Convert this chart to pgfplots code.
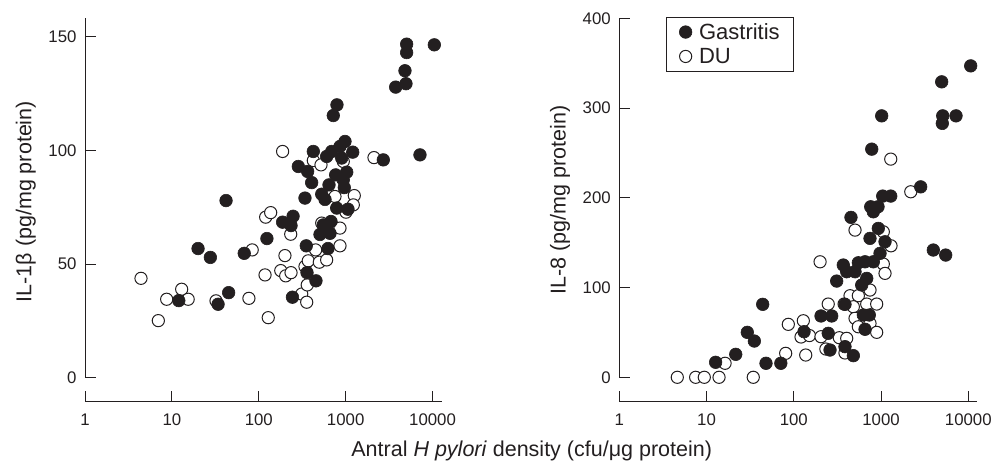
\documentclass[border=0pt]{standalone}
\usepackage{fontspec}
\setmainfont{Liberation Sans}
\usepackage{pgfplots}
\pgfplotsset{compat=1.18}
\definecolor{ink}{RGB}{35,31,32}
\begin{document}
\begin{tikzpicture}
\useasboundingbox (0,0) rectangle (995pt,464pt);
% ---------------- left: IL-1beta
\begin{axis}[at={(85pt,62.3pt)}, anchor=south west,
  scale only axis, width=357.3pt, height=383.7pt,
  xmode=log, log basis x=10, clip=false,
  axis x line*=bottom, axis y line*=left,
  axis line style={draw=none},
  xtick pos=bottom, ytick pos=left, tick align=inside, major tick length=11pt,
  major tick style={ink, line width=0.9pt},
  xtick={1,10,100,1000,10000}, xticklabels={1,10,100,1000,10000},
  xminorticks=false,
  tick label style={font=\fontsize{16.8}{19}\selectfont, text=ink},
  xticklabel style={yshift=-9pt},
  yticklabel style={xshift=-5pt},
  xmin=1, xmax=12940, ymin=-10.56, ymax=158.2,
  ytick={0,50,100,150}, yticklabels={0,50,100,150}]
\draw[ink, line width=0.9pt] (axis cs:1,0) -- (axis cs:1,158.2);
\draw[ink, line width=0.9pt] (axis cs:1,-10.56) -- (axis cs:12940,-10.56);
\addplot[only marks, mark=*, mark size=6.1pt, mark options={fill=white, draw=ink, line width=1pt}] table {
x y
4.41 43.7
6.98 25.1
8.71 34.5
12.96 38.9
15.4 34.5
32.2 33.8
77 34.9
128.5 26.4
84 56.2
120 70.6
137 72.6
188 99.5
118 45.2
179 47.1
204 44.8
235 46.2
200 53.7
233 63.1
312 36.8
356 33.2
361 40.8
340 48.9
371 51.4
451 56.2
497 50.8
604 51.8
860 58.0
860 65.8
530 68.0
753 79.7
1256 80.1
1224 76.0
1008 72.8
2117 96.8
424 95.5
520 93.6
938 95.1
};
\addplot[only marks, mark=*, mark size=6.3pt, mark options={fill=ink, draw=ink, line width=0.6pt}] table {
x y
10470 146.4
5030 146.7
5030 143.0
4810 135.0
4940 129.3
3760 127.8
7160 98.0
2710 95.8
794 120.0
720 115.3
982 103.9
860 101.7
690 99.5
604 97.3
1205 99.2
424 99.5
899 96.6
285 92.9
365 90.7
406 85.8
767 89.2
1028 90.4
938 87.0
643 84.8
964 83.6
340 79.0
530 80.7
578 78.4
788 74.6
1063 74.1
42 77.9
188 68.4
248 71.0
235 66.9
124 61.2
20 56.8
27.7 52.9
68 54.7
352 58.0
626 56.8
506 63.0
660 63.5
678 68.7
552 67.2
359 46.2
455 42.6
45 37.4
34 32.3
12 33.9
244 35.4
};
\end{axis}
% ---------------- right: IL-8
\begin{axis}[at={(619.3pt,62.3pt)}, anchor=south west,
  scale only axis, width=358pt, height=383.4pt,
  xmode=log, log basis x=10, clip=false,
  axis x line*=bottom, axis y line*=left,
  axis line style={draw=none},
  xtick pos=bottom, ytick pos=left, tick align=inside, major tick length=11pt,
  major tick style={ink, line width=0.9pt},
  xtick={1,10,100,1000,10000}, xticklabels={1,10,100,1000,10000},
  xminorticks=false,
  tick label style={font=\fontsize{16.8}{19}\selectfont, text=ink},
  xticklabel style={yshift=-9pt},
  yticklabel style={xshift=-5pt},
  xmin=1, xmax=12680, ymin=-27.2, ymax=400,
  ytick={0,100,200,300,400}, yticklabels={0,100,200,300,400},
  reverse legend,
  legend style={at={(0.13,1.003)}, anchor=north west, draw=ink, line width=0.8pt,
    inner xsep=12pt, inner ysep=4.5pt, font=\fontsize{22}{24}\selectfont,
    row sep=4.4pt, column sep=4pt,
    nodes={inner sep=2pt, text height=15pt, text depth=1pt, text=ink}, cells={anchor=west}},
  legend image code/.code={\path (0pt,0pt) (14pt,0pt); \draw[#1] plot coordinates {(7pt,0pt)};}]
\draw[ink, line width=0.9pt] (axis cs:1,0) -- (axis cs:1,400);
\draw[ink, line width=0.9pt] (axis cs:1,-27.2) -- (axis cs:12680,-27.2);
\addplot[only marks, mark=*, mark size=6.1pt, mark options={fill=white, draw=ink, line width=1pt}] table {
x y
4.62 0
7.5 0
9.42 0
13.9 0
34.3 0
16.3 15.6
80.7 26.7
137 24.8
86.5 59.0
128.5 63.0
200 128.7
503 164.0
1291 243.1
2190 206.7
1061 162.1
1300 146.5
1061 126.2
1110 115.8
441 90.9
549 90.9
747 97.2
248 81.6
377 81.6
685 81.6
891 81.6
481 78.6
503 65.7
549 56.3
747 60.1
891 50.1
121 44.9
151 46.5
205 45.2
233 31.5
332 44.1
404 43.4
386 27.1
};
\addlegendentry{DU}
\addplot[only marks, mark=*, mark size=6.3pt, mark options={fill=ink, draw=ink, line width=0.6pt}] table {
x y
10650 347.0
4955 329.2
5090 291.3
5035 282.9
7230 291.3
1017 291.3
782 254.2
2845 212.2
1045 201.9
1291 201.9
761 190.0
923 190.0
815 184.4
452 178.2
3970 141.8
5510 136.2
930 165.9
747 154.8
1110 151.0
973 138.1
815 128.7
549 127.6
655 128.7
369 125.1
404 117.6
503 117.6
685 110.2
600 102.8
310 107.2
44 81.3
386 81.3
205 68.3
272 68.3
626 69.4
733 69.4
655 53.5
131 50.8
248 49.0
29.3 50.1
35.3 40.4
386 34.1
260 30.4
481 24.1
21.6 25.6
12.7 16.7
48 15.6
71 15.6
};
\addlegendentry{Gastritis}
\end{axis}
\node[rotate=90, anchor=base, font=\fontsize{21.5}{24}\selectfont, text=ink] at (31.5pt,262.3pt) {IL-1β (pg/mg protein)};
\node[rotate=90, anchor=base, font=\fontsize{21.5}{24}\selectfont, text=ink] at (565.5pt,264pt) {IL-8 (pg/mg protein)};
\node[anchor=base, font=\fontsize{21.5}{24}\selectfont, text=ink] at (531.7pt,7.5pt) {Antral \textit{H pylori} density (cfu/μg protein)};
\end{tikzpicture}
\end{document}
